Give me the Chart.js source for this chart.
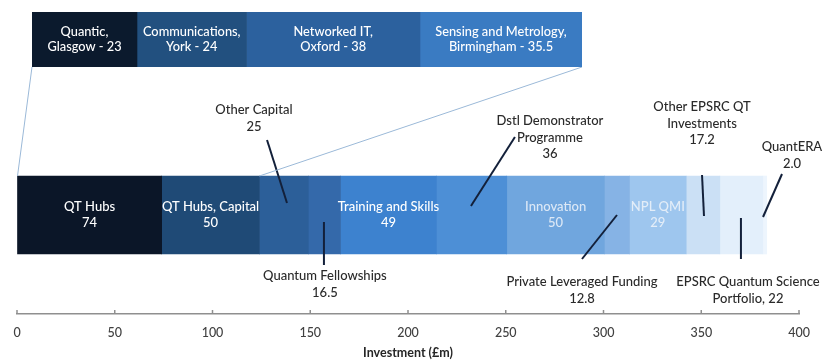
<!DOCTYPE html>
<html><head><meta charset="utf-8">
<script src="https://cdn.jsdelivr.net/npm/chart.js@4.4.1/dist/chart.umd.min.js"></script>
<style>
html,body{margin:0;padding:0;background:#fff;}
#wrap{position:relative;width:825px;height:363px;overflow:hidden;}
#main{position:absolute;left:0;top:0;width:825px;height:363px;}
#top{position:absolute;left:32px;top:12px;width:550px;height:55px;}
</style></head><body>
<div id="wrap"><div id="main"><canvas id="cMain"></canvas></div><div id="top"><canvas id="cTop"></canvas></div></div>
<script>
// ---- data ----
const categories = ['QT Hubs','QT Hubs, Capital','Other Capital','Quantum Fellowships','Training and Skills','Dstl Demonstrator Programme','Innovation','Private Leveraged Funding','NPL QMI','Other EPSRC QT Investments','EPSRC Quantum Science Portfolio','QuantERA'];
const values = [74, 50, 25, 16.5, 49, 36, 50, 12.8, 29, 17.2, 22, 2.0];
const valueLabels = ['74','50','25','16.5','49','36','50','12.8','29','17.2','22','2.0'];
const hubNames = ['Quantic, Glasgow','Communications, York','Networked IT, Oxford','Sensing and Metrology, Birmingham'];
const hubValues = [23, 24, 38, 35.5];
const hubLabels = ['23','24','38','35.5'];
const xTicksMin = 0, xTicksMax = 400, xTickStep = 50;
const axisTitle = 'Investment (£m)';

// ---- styles / layout ----
const FONT = 'Lato, "Open Sans", sans-serif';
const W = '500 ';
const mainColors = ['#0b1628','#1f4a76','#2c5f99','#3469aa','#3d82cf','#4d8fd6','#70a6de','#86b3e5','#9ec6ee','#cbe0f5','#e3effb','#edf5fd'];
const hubColors = ['#0b1a2d','#22507f','#2c619e','#3a7bc2'];
// in-bar label lines (segments not listed are labelled by annotations)
const inBar = {
  0: {lines:['QT Hubs','74'], color:'#ffffff'},
  1: {lines:['QT Hubs, Capital','50'], color:'#ffffff'},
  4: {lines:['Training and Skills','49'], color:'#ffffff'},
  6: {lines:['Innovation','50'], color:'#dce8f6'},
  8: {lines:['NPL QMI','29'], color:'#e3edf8'}
};
const hubLines = [['Quantic,','Glasgow - 23'],['Communications,','York - 24'],['Networked IT,','Oxford - 38'],['Sensing and Metrology,','Birmingham - 35.5']];
// annotations: text anchored at x (data units) and y (px), leader line from (x1,y1) to (x2,y2) (x in data units)
const annotations = [
  {lines:['Other Capital','25'], tx:121.2, ty:110, x1:127.9, y1:140, x2:138.1, y2:203},
  {lines:['Quantum Fellowships','16.5'], tx:157.5, ty:276, x1:157.0, y1:222, x2:157.0, y2:265},
  {lines:['Dstl Demonstrator','Programme','36'], tx:272.6, ty:121, x1:254.7, y1:137, x2:232.2, y2:206},
  {lines:['Private Leveraged Funding','12.8'], tx:289.0, ty:282, x1:306.9, y1:215, x2:289.0, y2:259},
  {lines:['Other EPSRC QT','Investments','17.2'], tx:350.4, ty:107, x1:350.4, y1:175, x2:351.4, y2:216},
  {lines:['QuantERA','2.0'], tx:396.4, ty:147, x1:391.3, y1:174, x2:381.6, y2:217},
  {lines:['EPSRC Quantum Science','Portfolio, 22'], tx:373.9, ty:282, x1:370.3, y1:218, x2:370.3, y2:259}
];

function drawLines(ctx, lines, x, y, lh) {
  lines.forEach((t, i) => ctx.fillText(t, x, y + i * lh));
}

// ---- top (breakdown) chart ----
const topPlugin = {
  id: 'topLabels',
  afterDatasetsDraw(chart) {
    const ctx = chart.ctx;
    ctx.save();
    ctx.font = W + '12.8px ' + FONT;
    ctx.fillStyle = '#ffffff';
    ctx.textAlign = 'center';
    ctx.textBaseline = 'middle';
    chart.data.datasets.forEach((ds, i) => {
      const bar = chart.getDatasetMeta(i).data[0];
      const cx = (bar.x + bar.base) / 2;
      drawLines(ctx, hubLines[i], cx, bar.y - 7.5, 15);
    });
    ctx.restore();
  }
};
const topChart = new Chart(document.getElementById('cTop'), {
  type: 'bar',
  data: {
    labels: ['QT Hubs'],
    datasets: hubNames.map((n, i) => ({
      label: n, data: [hubValues[i]], backgroundColor: hubColors[i], borderWidth: 0,
      barPercentage: 1, categoryPercentage: 1
    }))
  },
  options: {
    indexAxis: 'y', responsive: true, maintainAspectRatio: false, animation: false,
    layout: {padding: 0},
    plugins: {legend: {display: false}, tooltip: {enabled: false}},
    scales: {
      x: {display: false, stacked: true, min: 0, max: hubValues.reduce((a, b) => a + b, 0)},
      y: {display: false, stacked: true}
    }
  },
  plugins: [topPlugin]
});

// ---- main chart ----
const mainPlugin = {
  id: 'mainDeco',
  afterDatasetsDraw(chart) {
    const ctx = chart.ctx;
    const xs = chart.scales.x;
    ctx.save();
    // in-bar labels
    ctx.font = W + '13px ' + FONT;
    ctx.textAlign = 'center';
    ctx.textBaseline = 'middle';
    chart.data.datasets.forEach((ds, i) => {
      const cfg = inBar[i];
      if (!cfg) return;
      const bar = chart.getDatasetMeta(i).data[0];
      ctx.fillStyle = cfg.color;
      drawLines(ctx, cfg.lines, (bar.x + bar.base) / 2, bar.y - 8, 16);
    });
    // annotations
    ctx.strokeStyle = '#13203a';
    ctx.lineWidth = 2;
    ctx.fillStyle = '#2a2a2a';
    ctx.font = W + '13px ' + FONT;
    annotations.forEach(a => {
      ctx.beginPath();
      ctx.moveTo(xs.getPixelForValue(a.x1), a.y1);
      ctx.lineTo(xs.getPixelForValue(a.x2), a.y2);
      ctx.stroke();
      drawLines(ctx, a.lines, xs.getPixelForValue(a.tx), a.ty, 16.5);
    });
    // connector lines from breakdown bar to main bar
    const topDiv = document.getElementById('top');
    const tx0 = topChart.scales.x.getPixelForValue(0) + topDiv.offsetLeft;
    const tx1 = topChart.scales.x.getPixelForValue(topChart.scales.x.max) + topDiv.offsetLeft;
    const ty = topChart.chartArea.bottom + topDiv.offsetTop;
    const firstBar = chart.getDatasetMeta(0).data[0];
    const capBar = chart.getDatasetMeta(1).data[0];
    const barTop = firstBar.y - firstBar.height / 2;
    ctx.strokeStyle = '#9bb9d8';
    ctx.lineWidth = 1;
    ctx.beginPath();
    ctx.moveTo(tx0, ty); ctx.lineTo(firstBar.base, barTop);
    ctx.moveTo(tx1, ty); ctx.lineTo(capBar.x, barTop);
    ctx.stroke();
    // upward tick marks
    ctx.strokeStyle = '#8f8f8f';
    ctx.lineWidth = 1.5;
    xs.ticks.forEach(t => {
      const px = xs.getPixelForValue(t.value);
      ctx.beginPath();
      ctx.moveTo(px, xs.top);
      ctx.lineTo(px, xs.top - 4);
      ctx.stroke();
    });
    ctx.restore();
  }
};

new Chart(document.getElementById('cMain'), {
  type: 'bar',
  data: {
    labels: ['Investment'],
    datasets: categories.map((c, i) => ({
      label: c, data: [values[i]], backgroundColor: mainColors[i], borderWidth: 0,
      barThickness: 78
    }))
  },
  options: {
    indexAxis: 'y', responsive: true, maintainAspectRatio: false, animation: false,
    layout: {padding: {left: 17, right: 26, top: 116, bottom: 0}},
    plugins: {legend: {display: false}, tooltip: {enabled: false}},
    scales: {
      x: {
        stacked: true, min: xTicksMin, max: xTicksMax,
        ticks: {stepSize: xTickStep, padding: 11, color: '#404040', font: {family: FONT, size: 12.5, weight: '500'}, maxRotation: 0},
        grid: {display: true, drawOnChartArea: false, drawTicks: false},
        border: {display: true, color: '#8f8f8f', width: 1.5},
        title: {display: true, text: axisTitle, color: '#262626', font: {family: FONT, size: 12.5, weight: 'bold'}, padding: {top: 0, bottom: 3}},
        afterFit(s) { s.height = 49; }
      },
      y: {display: false, stacked: true}
    }
  },
  plugins: [mainPlugin]
});
</script>
</body></html>
